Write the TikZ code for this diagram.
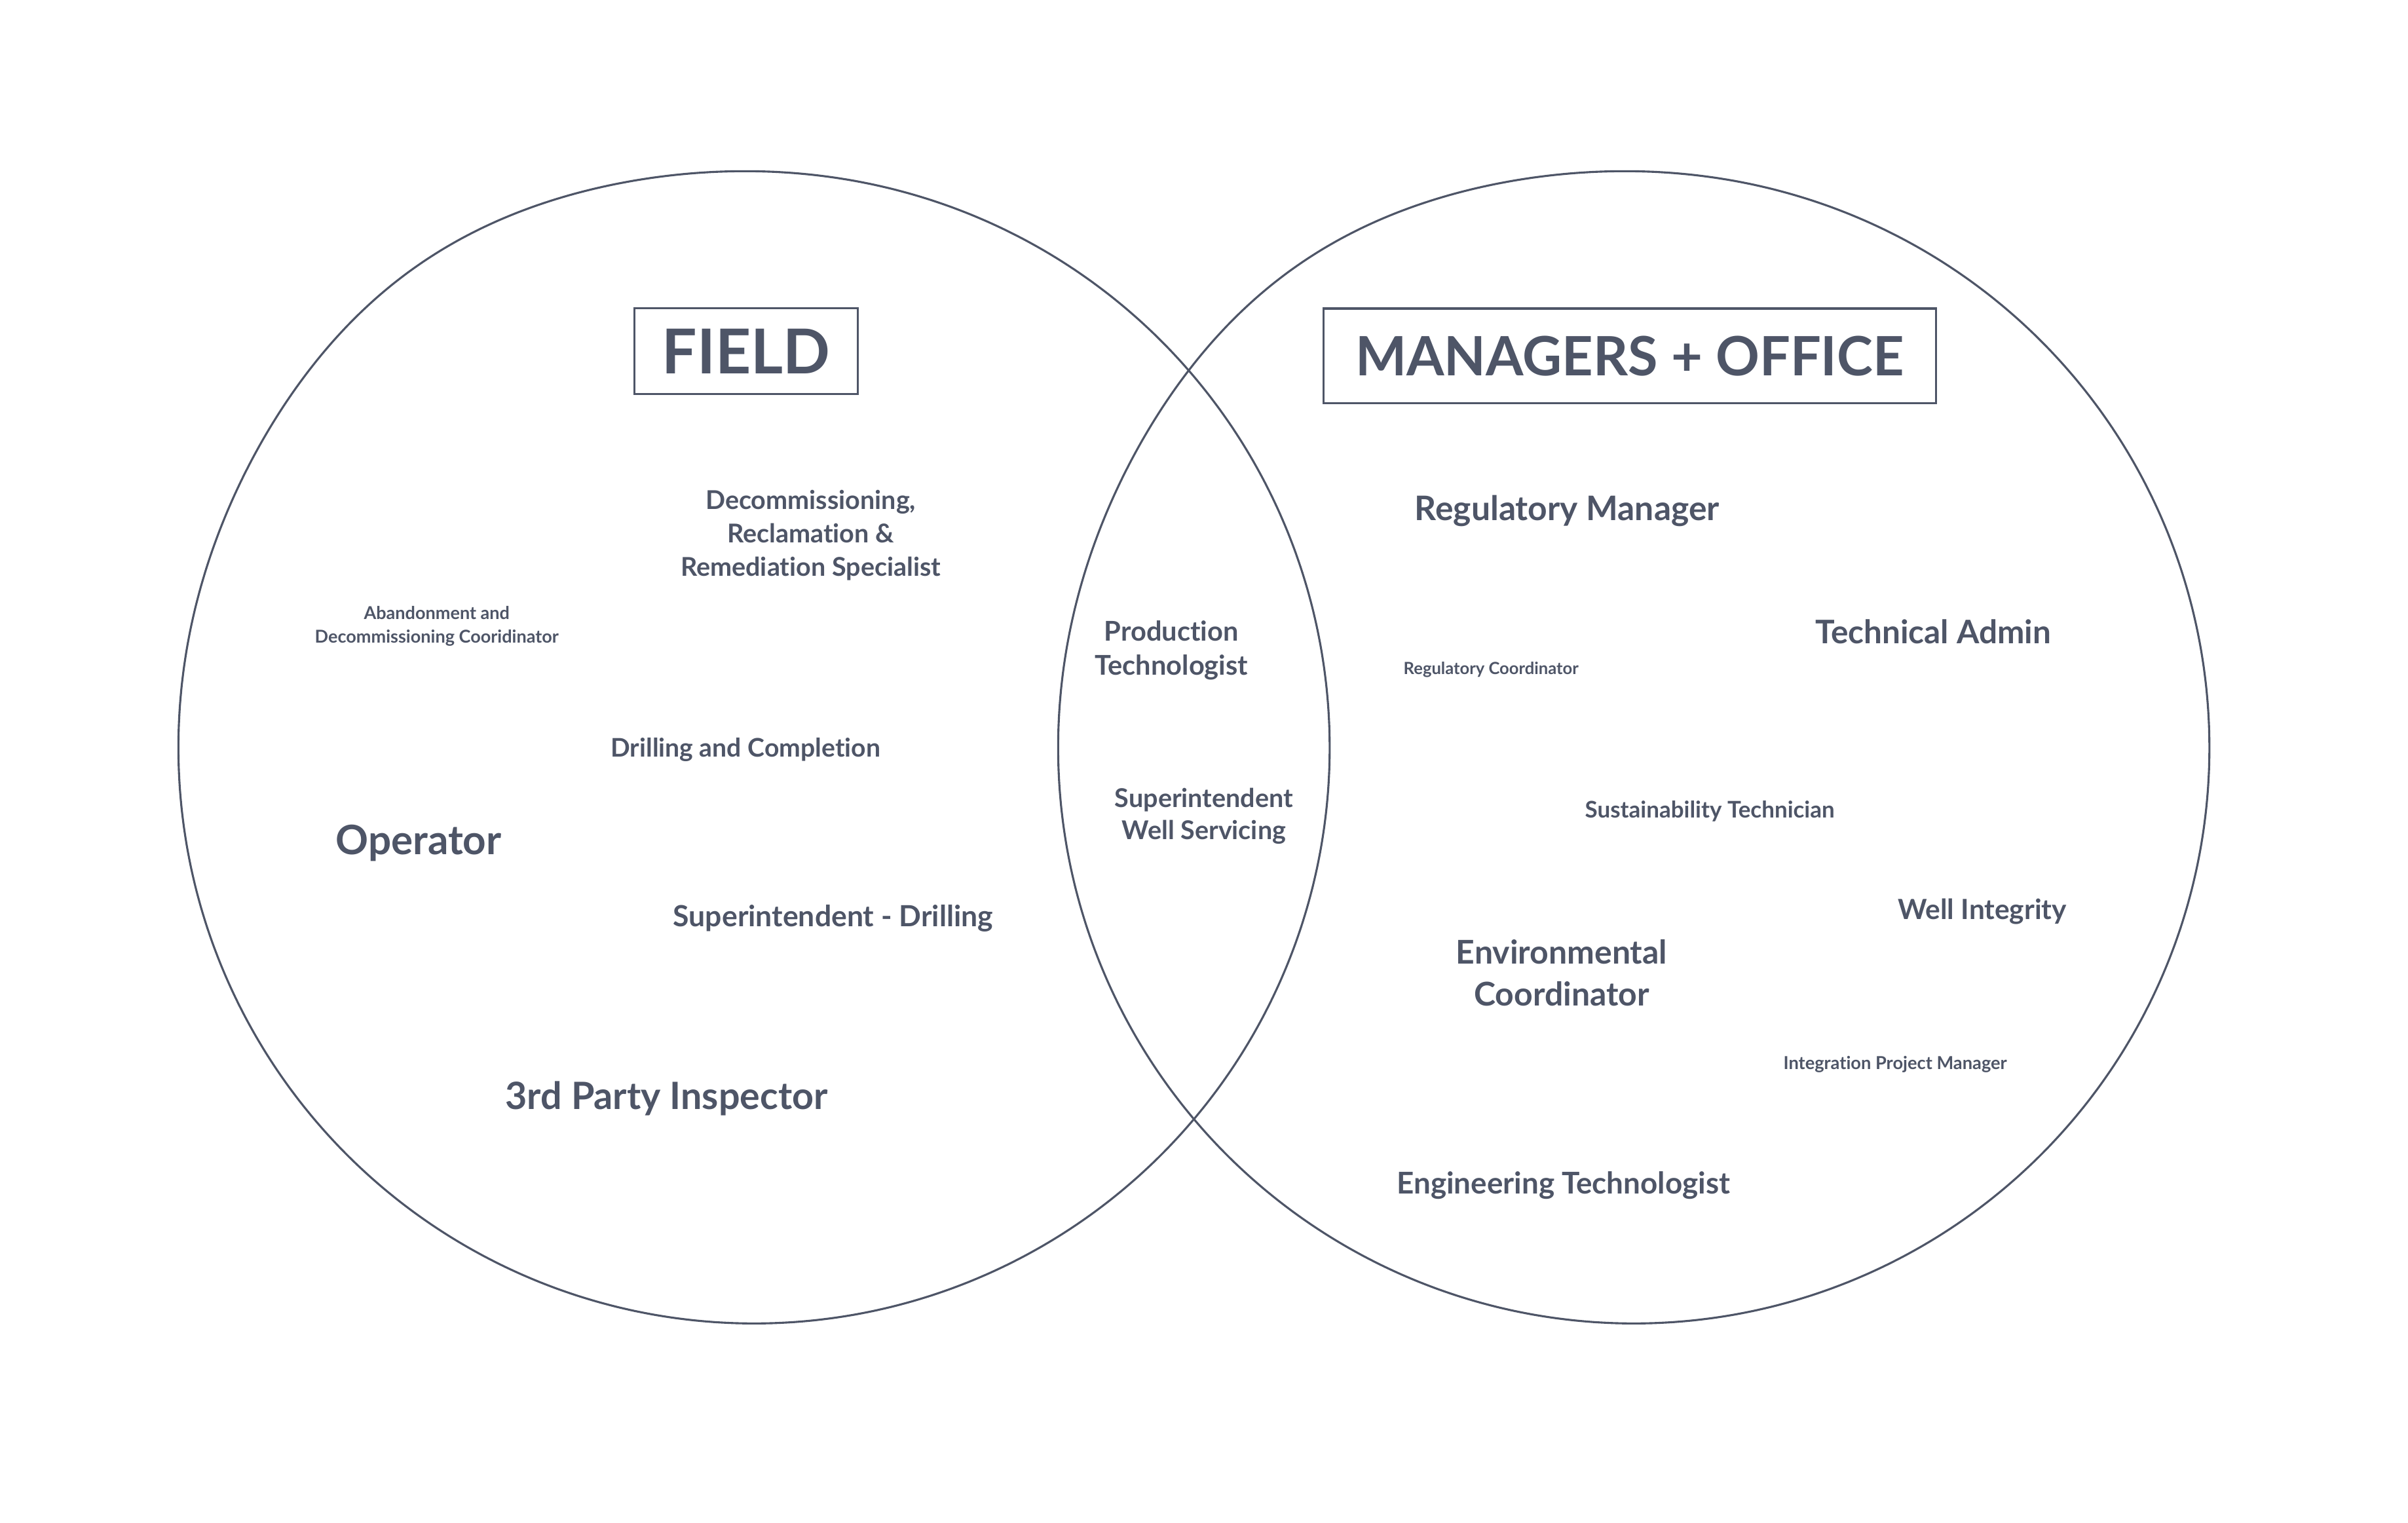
\documentclass[tikz,border=0pt]{standalone}
\usepackage{fontspec}
\setmainfont{Lato}[Ligatures=NoCommon]
\usepackage{tikz}
\definecolor{ink}{HTML}{4E5567}

\begin{document}
\begin{tikzpicture}
    [
        x=0.02cm, y=-0.02cm,
        venn line/.style={draw=ink, line width=0.75pt, line join=round},
        title box/.style={draw=ink, line width=0.8pt, text=ink, inner sep=0pt},
        role/.style n args={2}{text=ink, inner sep=0pt, align=center, font=\fontsize{#1}{#2}\selectfont\bfseries}
    ]
    \useasboundingbox[fill=white] (0,0) rectangle (1552,981.2);
    % the two hand drawn circles, same outline shifted (slight bulge top left)
    \draw[venn line, shift={(486,482)}] plot[domain=0:358, samples=180, smooth cycle]
        ({(371+8*exp(-((\x-125)/22)^2))*cos(\x)}, {-(371+8*exp(-((\x-125)/22)^2))*sin(\x)});
    \draw[venn line, shift={(1053,482)}] plot[domain=0:358, samples=180, smooth cycle]
        ({(371+8*exp(-((\x-125)/22)^2))*cos(\x)}, {-(371+8*exp(-((\x-125)/22)^2))*sin(\x)});
    % titles
    \node[title box, minimum width=144*0.02cm, minimum height=55.5*0.02cm, font=\fontsize{22.7}{27}\selectfont\bfseries] (field) at (481,226.3) {FIELD};
    \node[title box, minimum width=395*0.02cm, minimum height=61*0.02cm, font=\fontsize{19.9}{24}\selectfont\bfseries] (office) at (1050.4,229.4) {MANAGERS + OFFICE};
    % field roles
    \node[role={9.5}{12.2}] (decom) at (522.5,345) {Decommissioning,\\Reclamation \&\\Remediation Specialist};
    \node[role={6.5}{8.5}] (aband) at (281.5,403.5) {Abandonment and\\Decommissioning Cooridinator};
    \node[role={9.4}{12}, anchor=base] (drill) at (480.5,488) {Drilling and Completion};
    \node[role={14.9}{18}, anchor=base] (oper) at (269.8,550.8) {Operator};
    \node[role={10.7}{12}, anchor=base] (supdrill) at (537,597.2) {Superintendent - Drilling};
    \node[role={13.8}{16}, anchor=base] (inspect) at (429.6,715) {3rd Party Inspector};
    % shared roles
    \node[role={10}{12.5}] (prodtech) at (755,419) {Production\\Technologist};
    \node[role={9.5}{11.7}] (supwell) at (776,526) {Superintendent\\Well Servicing};
    % office roles
    \node[role={12.4}{14}, anchor=base] (regman) at (1010,335.6) {Regulatory Manager};
    \node[role={11.9}{14}, anchor=base] (techadm) at (1246,414.6) {Technical Admin};
    \node[role={6.15}{7}, anchor=base] (regcoord) at (961,434.5) {Regulatory Coordinator};
    \node[role={8.4}{10}, anchor=base] (sustain) at (1102,527) {Sustainability Technician};
    \node[role={10.2}{12}, anchor=base] (wellint) at (1277.7,592.5) {Well Integrity};
    \node[role={12}{15.3}] (envcoord) at (1006.5,627) {Environmental\\Coordinator};
    \node[role={6.55}{8}, anchor=base] (intpm) at (1221.5,689.4) {Integration Project Manager};
    \node[role={11}{13}, anchor=base] (engtech) at (1007.7,769.4) {Engineering Technologist};
\end{tikzpicture}
\end{document}
